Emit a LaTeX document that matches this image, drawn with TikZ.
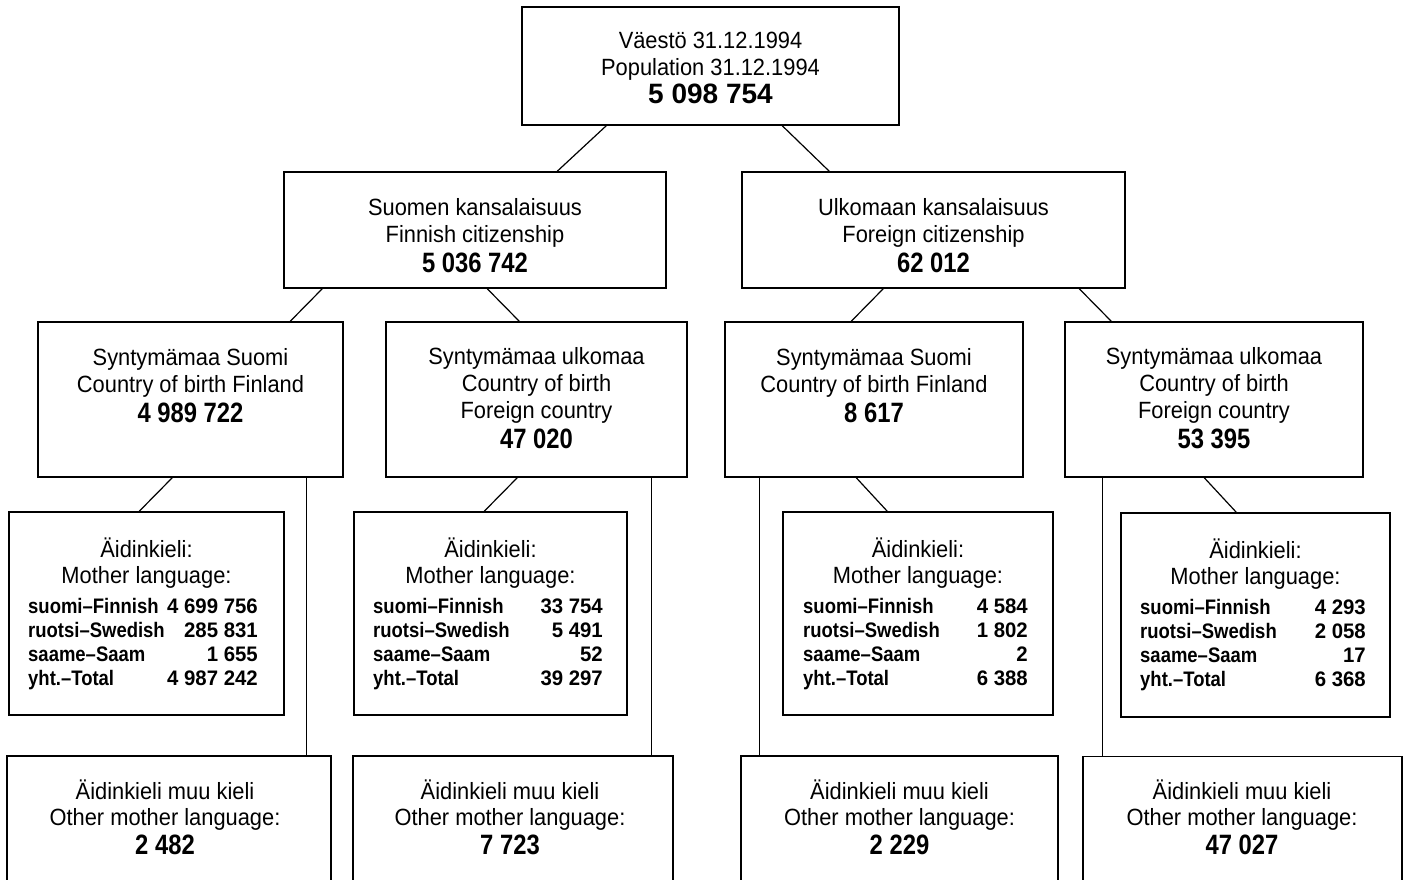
\documentclass[tikz,border=0pt]{standalone}
\usepackage{fontspec}
\setmainfont{Liberation Sans}
\newfontfamily\regfont{Liberation Sans}[FakeStretch=0.93]
\newfontfamily\numfont{Liberation Sans}[FakeStretch=0.85]
\newfontfamily\rowfont{Liberation Sans}[FakeStretch=0.88]
\newfontfamily\rownumfont{Liberation Sans}[FakeStretch=0.97]
\begin{document}
\begin{tikzpicture}[x=1pt,y=-1pt,
  box/.style={draw=black, line width=1.5pt, rectangle, inner sep=0pt},
  conn/.style={draw=black, line width=1.2pt},
  txt/.style={anchor=base, inner sep=0pt, font=\regfont\fontsize{23.5}{26}\selectfont},
  num/.style={anchor=base, inner sep=0pt, font=\numfont\fontsize{28}{30}\selectfont\bfseries},
  topnum/.style={anchor=base, inner sep=0pt, font=\fontsize{28}{30}\selectfont\bfseries},
  rowl/.style={anchor=base west, inner sep=0pt, font=\rowfont\fontsize{21}{24}\selectfont\bfseries},
  rowr/.style={anchor=base east, inner sep=0pt, font=\rownumfont\fontsize{21}{24}\selectfont\bfseries}]
\useasboundingbox (0,0) rectangle (1403,880);
\clip (0,0) rectangle (1403,880);
\fill[white] (0,0) rectangle (1403,880);

% ---------- boxes ----------
\node[box, minimum width=377pt, minimum height=118pt] (top) at (710.5,66) {};
\node[box, minimum width=382pt, minimum height=116pt] (fin) at (475,230) {};
\node[box, minimum width=383pt, minimum height=116pt] (for) at (933.5,230) {};
\node[box, minimum width=305pt, minimum height=155pt] (b1) at (190.5,399.5) {};
\node[box, minimum width=301pt, minimum height=155pt] (b2) at (536.5,399.5) {};
\node[box, minimum width=298pt, minimum height=155pt] (b3) at (874,399.5) {};
\node[box, minimum width=298pt, minimum height=155pt] (b4) at (1214,399.5) {};
\node[box, minimum width=275pt, minimum height=203pt] (m1) at (146.5,613.5) {};
\node[box, minimum width=273pt, minimum height=203pt] (m2) at (490.5,613.5) {};
\node[box, minimum width=270pt, minimum height=203pt] (m3) at (918,613.5) {};
\node[box, minimum width=269pt, minimum height=204pt] (m4) at (1255.5,615) {};
\node[box, minimum width=324pt, minimum height=144pt] (o1) at (169,828) {};
\node[box, minimum width=320pt, minimum height=144pt] (o2) at (513,828) {};
\node[box, minimum width=317pt, minimum height=144pt] (o3) at (899.5,828) {};
\node[box, minimum width=319pt, minimum height=144pt] (o4) at (1242.5,828.5) {};

% ---------- connectors ----------
\draw[conn] ([xshift=85pt]top.south west) -- ([xshift=274pt]fin.north west);
\draw[conn] ([xshift=261pt]top.south west) -- ([xshift=88pt]for.north west);
\draw[conn] ([xshift=39pt]fin.south west) -- ([xshift=253pt]b1.north west);
\draw[conn] ([xshift=204pt]fin.south west) -- ([xshift=134pt]b2.north west);
\draw[conn] ([xshift=142pt]for.south west) -- ([xshift=127pt]b3.north west);
\draw[conn] ([xshift=338pt]for.south west) -- ([xshift=47pt]b4.north west);
\draw[conn] ([xshift=135pt]b1.south west) -- ([xshift=131pt]m1.north west);
\draw[conn] ([xshift=132pt]b2.south west) -- ([xshift=131pt]m2.north west);
\draw[conn] ([xshift=132pt]b3.south west) -- ([xshift=105pt]m3.north west);
\draw[conn] ([xshift=140pt]b4.south west) -- ([xshift=116pt]m4.north west);
\draw[conn] ([xshift=269pt]b1.south west) -- ([xshift=269pt]b1.south west |- o1.north);
\draw[conn] ([xshift=266pt]b2.south west) -- ([xshift=266pt]b2.south west |- o2.north);
\draw[conn] ([xshift=35pt]b3.south west) -- ([xshift=35pt]b3.south west |- o3.north);
\draw[conn] ([xshift=38pt]b4.south west) -- ([xshift=38pt]b4.south west |- o4.north);

% ---------- texts: top ----------
\node[txt] (top1) at (710.5,49) {Väestö 31.12.1994};
\node[txt] (top2) at (710.5,76) {Population 31.12.1994};
\node[topnum] (top3) at (710.5,104) {5 098 754};

% ---------- level 2 ----------
\node[txt] (fin1) at (475,215) {Suomen kansalaisuus};
\node[txt] (fin2) at (475,242) {Finnish citizenship};
\node[num] (fin3) at (475,272) {5 036 742};
\node[txt] (for1) at (933.5,215) {Ulkomaan kansalaisuus};
\node[txt] (for2) at (933.5,242) {Foreign citizenship};
\node[num] (for3) at (933.5,272) {62 012};

% ---------- level 3 ----------
\node[txt] (b1a) at (190.5,365) {Syntymämaa Suomi};
\node[txt] (b1b) at (190.5,392) {Country of birth Finland};
\node[num] (b1c) at (190.5,422) {4 989 722};

\node[txt] (b2a) at (536.5,364) {Syntymämaa ulkomaa};
\node[txt] (b2b) at (536.5,391) {Country of birth};
\node[txt] (b2c) at (536.5,418) {Foreign country};
\node[num] (b2d) at (536.5,448) {47 020};

\node[txt] (b3a) at (874,365) {Syntymämaa Suomi};
\node[txt] (b3b) at (874,392) {Country of birth Finland};
\node[num] (b3c) at (874,422) {8 617};

\node[txt] (b4a) at (1214,364) {Syntymämaa ulkomaa};
\node[txt] (b4b) at (1214,391) {Country of birth};
\node[txt] (b4c) at (1214,418) {Foreign country};
\node[num] (b4d) at (1214,448) {53 395};

% ---------- mother language boxes ----------
\node[txt] (m1a) at (146.5,557) {Äidinkieli:};
\node[txt] (m1b) at (146.5,583) {Mother language:};
\node[rowl] (m1r1) at (28,613) {suomi–Finnish};
\node[rowr] (m1n1) at (258,613) {4 699 756};
\node[rowl] (m1r2) at (28,637) {ruotsi–Swedish};
\node[rowr] (m1n2) at (258,637) {285 831};
\node[rowl] (m1r3) at (28,661) {saame–Saam};
\node[rowr] (m1n3) at (258,661) {1 655};
\node[rowl] (m1r4) at (28,685) {yht.–Total};
\node[rowr] (m1n4) at (258,685) {4 987 242};

\node[txt] (m2a) at (490.5,557) {Äidinkieli:};
\node[txt] (m2b) at (490.5,583) {Mother language:};
\node[rowl] (m2r1) at (373,613) {suomi–Finnish};
\node[rowr] (m2n1) at (603,613) {33 754};
\node[rowl] (m2r2) at (373,637) {ruotsi–Swedish};
\node[rowr] (m2n2) at (603,637) {5 491};
\node[rowl] (m2r3) at (373,661) {saame–Saam};
\node[rowr] (m2n3) at (603,661) {52};
\node[rowl] (m2r4) at (373,685) {yht.–Total};
\node[rowr] (m2n4) at (603,685) {39 297};

\node[txt] (m3a) at (918,557) {Äidinkieli:};
\node[txt] (m3b) at (918,583) {Mother language:};
\node[rowl] (m3r1) at (803,613) {suomi–Finnish};
\node[rowr] (m3n1) at (1028,613) {4 584};
\node[rowl] (m3r2) at (803,637) {ruotsi–Swedish};
\node[rowr] (m3n2) at (1028,637) {1 802};
\node[rowl] (m3r3) at (803,661) {saame–Saam};
\node[rowr] (m3n3) at (1028,661) {2};
\node[rowl] (m3r4) at (803,685) {yht.–Total};
\node[rowr] (m3n4) at (1028,685) {6 388};

\node[txt] (m4a) at (1255.5,558) {Äidinkieli:};
\node[txt] (m4b) at (1255.5,584) {Mother language:};
\node[rowl] (m4r1) at (1140,614) {suomi–Finnish};
\node[rowr] (m4n1) at (1366,614) {4 293};
\node[rowl] (m4r2) at (1140,638) {ruotsi–Swedish};
\node[rowr] (m4n2) at (1366,638) {2 058};
\node[rowl] (m4r3) at (1140,662) {saame–Saam};
\node[rowr] (m4n3) at (1366,662) {17};
\node[rowl] (m4r4) at (1140,686) {yht.–Total};
\node[rowr] (m4n4) at (1366,686) {6 368};

% ---------- other mother language ----------
\node[txt] (o1a) at (165,799) {Äidinkieli muu kieli};
\node[txt] (o1b) at (165,825) {Other mother language:};
\node[num] (o1c) at (165,854) {2 482};
\node[txt] (o2a) at (510,799) {Äidinkieli muu kieli};
\node[txt] (o2b) at (510,825) {Other mother language:};
\node[num] (o2c) at (510,854) {7 723};
\node[txt] (o3a) at (899.5,799) {Äidinkieli muu kieli};
\node[txt] (o3b) at (899.5,825) {Other mother language:};
\node[num] (o3c) at (899.5,854) {2 229};
\node[txt] (o4a) at (1242,799) {Äidinkieli muu kieli};
\node[txt] (o4b) at (1242,825) {Other mother language:};
\node[num] (o4c) at (1242,854) {47 027};
\end{tikzpicture}
\end{document}
